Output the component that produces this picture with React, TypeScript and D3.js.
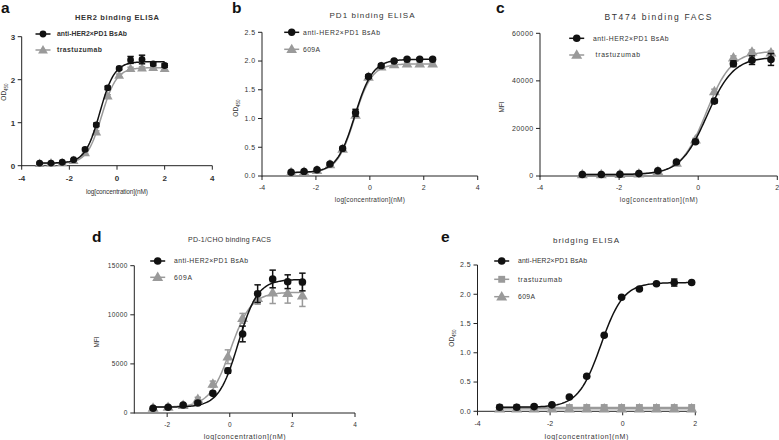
import React from "react";
import * as d3 from "d3";

const W = 779;
const H = 440;
const FONT = "'Liberation Sans', Arial, sans-serif";
const BLACK = "#111";
const GRAY = "#9a9a9a";

const SERIES_BSAB = "anti-HER2×PD1 BsAb";
const SERIES_TRAS = "trastuzumab";
const SERIES_609 = "609A";
const XLABEL = "log[concentration](nM)";

// ---------- panel a: HER2 binding ELISA ----------
const aX = [-3.25, -2.77, -2.3, -1.82, -1.34, -0.87, -0.39, 0.09, 0.57, 1.05, 1.52, 2.0];
const aBsAb = [0.06, 0.06, 0.08, 0.14, 0.38, 0.95, 1.81, 2.26, 2.46, 2.47, 2.37, 2.33];
const aBsAbErr = [0.02, 0.02, 0.02, 0.02, 0.03, 0.04, 0.04, 0.03, 0.08, 0.1, 0.04, 0.04];
const aTras = [0.05, 0.06, 0.07, 0.12, 0.3, 0.78, 1.62, 2.1, 2.26, 2.27, 2.28, 2.26];
const aTrasErr = [0.01, 0.01, 0.01, 0.02, 0.02, 0.03, 0.03, 0.03, 0.03, 0.03, 0.03, 0.03];
const aBsAbFit = [0.06, 2.42, -0.72, 1.41]; // bottom, top, logEC50, hill
const aTrasFit = [0.05, 2.28, -0.64, 1.4];
const aXTicks = [-4, -2, 0, 2, 4];
const aYTicks = [0, 1, 2, 3];

// ---------- panel b: PD1 binding ELISA ----------
const bX = [-2.92, -2.44, -1.96, -1.48, -1.01, -0.53, -0.05, 0.42, 0.9, 1.38, 1.85, 2.33];
const bBsAb = [0.065, 0.08, 0.11, 0.21, 0.48, 1.1, 1.73, 1.92, 2.0, 2.03, 2.03, 2.03];
const bBsAbErr = [0.01, 0.01, 0.01, 0.02, 0.02, 0.06, 0.03, 0.03, 0.02, 0.02, 0.02, 0.02];
const b609 = [0.065, 0.075, 0.1, 0.2, 0.47, 1.06, 1.72, 1.9, 1.94, 1.95, 1.95, 1.95];
const b609Err = [0.01, 0.01, 0.01, 0.01, 0.02, 0.03, 0.03, 0.03, 0.03, 0.03, 0.03, 0.03];
const bBsAbFit = [0.06, 2.03, -0.56, 1.3];
const b609Fit = [0.06, 1.95, -0.57, 1.35];
const bXTicks = [-4, -2, 0, 2, 4];
const bYTicks = [0, 0.5, 1, 1.5, 2, 2.5];

// ---------- panel c: BT474 binding FACS ----------
const cX = [-2.93, -2.45, -1.98, -1.5, -1.02, -0.55, -0.07, 0.41, 0.89, 1.36, 1.84];
const cBsAb = [600, 600, 700, 1000, 2200, 5900, 14400, 31500, 47200, 48700, 49000];
const cBsAbErr = [200, 200, 200, 200, 300, 400, 600, 800, 1200, 1800, 2500];
const cTras = [600, 600, 700, 1000, 2000, 5500, 15200, 35500, 49700, 52200, 51800];
const cTrasErr = [200, 200, 200, 200, 300, 400, 600, 1000, 800, 800, 800];
const cBsAbFit = [600, 50000, 0.22, 1.3];
const cTrasFit = [600, 52500, 0.2, 1.35];
const cXTicks = [-4, -2, 0, 2];
const cYTicks = [0, 20000, 40000, 60000];

// ---------- panel d: PD-1/CHO binding FACS ----------
const dX = [-2.45, -1.97, -1.49, -1.02, -0.54, -0.06, 0.41, 0.89, 1.37, 1.85, 2.32];
const dBsAb = [480, 590, 810, 1020, 2000, 4300, 8050, 12150, 13650, 13370, 13340];
const dBsAbErr = [100, 100, 100, 150, 200, 250, 800, 900, 900, 700, 900];
const d609 = [500, 600, 800, 1400, 2950, 5730, 9640, 11680, 12250, 12190, 11950];
const d609Err = [100, 100, 150, 200, 300, 700, 500, 600, 1100, 1000, 1100];
const dBsAbFit = [600, 13600, 0.27, 1.4];
const d609Fit = [600, 12300, 0.02, 1.3];
const dXTicks = [-2, 0, 2, 4];
const dYTicks = [0, 5000, 10000, 15000];

// ---------- panel e: bridging ELISA ----------
const eX = [-3.39, -2.92, -2.44, -1.95, -1.47, -0.99, -0.51, -0.03, 0.46, 0.93, 1.42, 1.9];
const eBsAb = [0.068, 0.07, 0.08, 0.11, 0.245, 0.6, 1.3, 1.95, 2.09, 2.18, 2.2, 2.2];
const eBsAbErr = [0.01, 0.01, 0.01, 0.01, 0.01, 0.02, 0.02, 0.02, 0.02, 0.02, 0.06, 0.02];
const eTras = [0.065, 0.065, 0.065, 0.065, 0.065, 0.065, 0.065, 0.065, 0.065, 0.065, 0.065, 0.065];
const eTrasErr = [0.005, 0.005, 0.005, 0.005, 0.005, 0.005, 0.005, 0.005, 0.005, 0.005, 0.005, 0.005];
const e609 = [0.045, 0.045, 0.045, 0.045, 0.045, 0.045, 0.045, 0.045, 0.045, 0.045, 0.045, 0.045];
const e609Err = [0.005, 0.005, 0.005, 0.005, 0.005, 0.005, 0.005, 0.005, 0.005, 0.005, 0.005, 0.005];
const eBsAbFit = [0.07, 2.2, -0.6, 1.4];
const eTrasFit = [0.065, 0.065, 0, 1];
const e609Fit = [0.045, 0.045, 0, 1];
const eXTicks = [-4, -2, 0, 2];
const eYTicks = [0, 0.5, 1, 1.5, 2, 2.5];

type Shape = "circle" | "triangle" | "square";
type Series = {
  name: string;
  x: number[];
  y: number[];
  err: number[];
  fit: number[];
  color: string;
  shape: Shape;
};

type PanelCfg = {
  letter: string;
  letterPos: [number, number];
  title: string;
  titlePos: [number, number];
  titleW: number;
  titleFs: number;
  xDomain: [number, number];
  xRange: [number, number];
  xTicks: number[];
  yDomain: [number, number];
  yRange: [number, number];
  yTicks: number[];
  yFmt: (v: number) => string;
  yLabel: string;
  ySub: boolean;
  yLabelPos: [number, number];
  xLabelY: number;
  xLabelW: number;
  xLabelFs: number;
  legendX: number;
  legendYs: number[];
  legendTextX: number;
  legendWs: number[];
  tickFs: number;
  bold: boolean;
  r: number;
  series: Series[]; // legend order
};

const fmtInt = (v: number) => String(v);
const fmt1 = d3.format(".1f");

const panels: PanelCfg[] = [
  {
    letter: "a", letterPos: [1, 13],
    title: "HER2 binding ELISA", titlePos: [117, 20], titleW: 84, titleFs: 7.5,
    xDomain: [-4, 4], xRange: [21.7, 212.3], xTicks: aXTicks,
    yDomain: [0, 3], yRange: [165.7, 36.7], yTicks: aYTicks, yFmt: fmtInt,
    yLabel: "OD", ySub: true, yLabelPos: [6, 92],
    xLabelY: 194, xLabelW: 62, xLabelFs: 6.5,
    legendX: 43, legendYs: [34, 50], legendTextX: 57, legendWs: [70, 45],
    tickFs: 8, bold: true, r: 3.4,
    series: [
      { name: SERIES_BSAB, x: aX, y: aBsAb, err: aBsAbErr, fit: aBsAbFit, color: BLACK, shape: "circle" },
      { name: SERIES_TRAS, x: aX, y: aTras, err: aTrasErr, fit: aTrasFit, color: GRAY, shape: "triangle" },
    ],
  },
  {
    letter: "b", letterPos: [232, 13],
    title: "PD1 binding ELISA", titlePos: [372, 18], titleW: 85, titleFs: 8,
    xDomain: [-4, 4], xRange: [262, 477.7], xTicks: bXTicks,
    yDomain: [0, 2.5], yRange: [176, 32.3], yTicks: bYTicks, yFmt: fmt1,
    yLabel: "OD", ySub: true, yLabelPos: [238, 108],
    xLabelY: 202, xLabelW: 70, xLabelFs: 6.5,
    legendX: 291.7, legendYs: [32.3, 49.3], legendTextX: 303, legendWs: [77, 17],
    tickFs: 7, bold: false, r: 3.7,
    series: [
      { name: SERIES_BSAB, x: bX, y: bBsAb, err: bBsAbErr, fit: bBsAbFit, color: BLACK, shape: "circle" },
      { name: SERIES_609, x: bX, y: b609, err: b609Err, fit: b609Fit, color: GRAY, shape: "triangle" },
    ],
  },
  {
    letter: "c", letterPos: [496, 13],
    title: "BT474  binding FACS", titlePos: [658, 19.5], titleW: 107, titleFs: 8.5,
    xDomain: [-4, 2], xRange: [540, 777.3], xTicks: cXTicks,
    yDomain: [0, 60000], yRange: [176, 33.3], yTicks: cYTicks, yFmt: fmtInt,
    yLabel: "MFI", ySub: false, yLabelPos: [504, 107],
    xLabelY: 202, xLabelW: 78, xLabelFs: 6.5,
    legendX: 576.7, legendYs: [38.3, 55], legendTextX: 593, legendWs: [75.6, 47],
    tickFs: 7, bold: false, r: 3.8,
    series: [
      { name: SERIES_BSAB, x: cX, y: cBsAb, err: cBsAbErr, fit: cBsAbFit, color: BLACK, shape: "circle" },
      { name: " " + SERIES_TRAS, x: cX, y: cTras, err: cTrasErr, fit: cTrasFit, color: GRAY, shape: "triangle" },
    ],
  },
  {
    letter: "d", letterPos: [92, 242],
    title: "PD-1/CHO binding FACS", titlePos: [229.5, 241.5], titleW: 83, titleFs: 7,
    xDomain: [-3.05, 4], xRange: [134.3, 355], xTicks: dXTicks,
    yDomain: [0, 15000], yRange: [413, 265.7], yTicks: dYTicks, yFmt: fmtInt,
    yLabel: "MFI", ySub: false, yLabelPos: [99, 342],
    xLabelY: 438.5, xLabelW: 82, xLabelFs: 7,
    legendX: 157.7, legendYs: [261, 277.3], legendTextX: 174, legendWs: [74, 18],
    tickFs: 6.5, bold: false, r: 3.8,
    series: [
      { name: SERIES_BSAB, x: dX, y: dBsAb, err: dBsAbErr, fit: dBsAbFit, color: BLACK, shape: "circle" },
      { name: SERIES_609, x: dX, y: d609, err: d609Err, fit: d609Fit, color: GRAY, shape: "triangle" },
    ],
  },
  {
    letter: "e", letterPos: [441, 242],
    title: "bridging ELISA", titlePos: [586, 243], titleW: 66, titleFs: 8,
    xDomain: [-4, 2], xRange: [477.5, 695.3], xTicks: eXTicks,
    yDomain: [0, 2.5], yRange: [411.3, 265], yTicks: eYTicks, yFmt: fmt1,
    yLabel: "OD", ySub: true, yLabelPos: [454, 338],
    xLabelY: 438.5, xLabelW: 84, xLabelFs: 7,
    legendX: 501.7, legendYs: [261, 279.3, 296.7], legendTextX: 518, legendWs: [69, 44, 17],
    tickFs: 7, bold: false, r: 3.8,
    series: [
      { name: SERIES_BSAB, x: eX, y: eBsAb, err: eBsAbErr, fit: eBsAbFit, color: BLACK, shape: "circle" },
      { name: SERIES_TRAS, x: eX, y: eTras, err: eTrasErr, fit: eTrasFit, color: GRAY, shape: "square" },
      { name: SERIES_609, x: eX, y: e609, err: e609Err, fit: e609Fit, color: GRAY, shape: "triangle" },
    ],
  },
];

function fourPL(p: number[], lx: number) {
  const [bottom, top, ec, hill] = p;
  return bottom + (top - bottom) / (1 + Math.pow(10, (ec - lx) * hill));
}

function Marker({ shape, cx, cy, r, color }: { shape: Shape; cx: number; cy: number; r: number; color: string }) {
  if (shape === "circle") return <circle cx={cx} cy={cy} r={r} fill={color} />;
  const area = shape === "triangle" ? r * r * 3.6 : r * r * 3.3;
  const sym = d3.symbol().type(shape === "triangle" ? d3.symbolTriangle : d3.symbolSquare).size(area)();
  return <path d={sym || ""} transform={`translate(${cx},${cy + (shape === "triangle" ? 0.6 : 0)})`} fill={color} />;
}

function Panel({ c }: { c: PanelCfg }) {
  const x = d3.scaleLinear().domain(c.xDomain).range(c.xRange);
  const y = d3.scaleLinear().domain(c.yDomain).range(c.yRange);
  const fw = c.bold ? "bold" : "normal";
  const line = d3
    .line<number>()
    .x((lx) => x(lx))
    .curve(d3.curveLinear);
  const x0 = c.xRange[0];
  const yBase = c.yRange[0];
  const drawOrder = [...c.series].reverse();
  const txtColor = "#333";
  return (
    <g fontFamily={FONT}>
      <text
        x={c.letterPos[0]}
        y={c.letterPos[1]}
        fontFamily="'Liberation Sans Narrow', 'Liberation Sans', Arial, sans-serif"
        fontWeight="bold"
        fontSize={15.5}
        fill="#111"
      >
        {c.letter}
      </text>
      <text
        x={c.titlePos[0] - c.titleW / 2}
        y={c.titlePos[1]}
        fontSize={c.titleFs}
        fill={txtColor}
        fontWeight={c.bold ? "bold" : "normal"}
        textLength={c.titleW}
        lengthAdjust="spacing"
      >
        {c.title}
      </text>

      {/* axes */}
      <line x1={x0} x2={x0} y1={y(c.yDomain[0]) + 0.5} y2={y(c.yDomain[1])} stroke="#222" strokeWidth={1} />
      <line x1={x0} x2={c.xRange[1]} y1={yBase} y2={yBase} stroke="#222" strokeWidth={1} />
      {c.yTicks.map((t) => (
        <g key={"yt" + t}>
          <line x1={x0 - 4} x2={x0} y1={y(t)} y2={y(t)} stroke="#222" strokeWidth={1} />
          <text
            x={x0 - 6.5}
            y={y(t)}
            dy="0.35em"
            textAnchor="end"
            fontSize={c.tickFs}
            fontWeight={fw}
            fill={txtColor}
            letterSpacing={c.bold ? 0 : 0.4}
          >
            {c.yFmt(t)}
          </text>
        </g>
      ))}
      {c.xTicks.map((t) => (
        <g key={"xt" + t}>
          <line x1={x(t)} x2={x(t)} y1={yBase} y2={yBase + 4} stroke="#222" strokeWidth={1} />
          <text
            x={x(t)}
            y={yBase + 12}
            dy="0.35em"
            textAnchor="middle"
            fontSize={c.tickFs}
            fontWeight={fw}
            fill={txtColor}
          >
            {t < 0 ? "-" + Math.abs(t) : String(t)}
          </text>
        </g>
      ))}
      <text
        x={(c.xRange[0] + c.xRange[1]) / 2 - c.xLabelW / 2}
        y={c.xLabelY}
        fontSize={c.xLabelFs}
        fill={txtColor}
        textLength={c.xLabelW}
        lengthAdjust="spacing"
      >
        {XLABEL}
      </text>
      <text
        transform={`translate(${c.yLabelPos[0]},${c.yLabelPos[1]}) rotate(-90)`}
        textAnchor="middle"
        fontSize={6.5}
        fill={txtColor}
      >
        {c.yLabel}
        {c.ySub ? (
          <tspan fontSize={4.5} dy={1.5}>
            450
          </tspan>
        ) : null}
      </text>

      {/* series */}
      {drawOrder.map((s) => {
        const xs = d3.range(121).map((i) => s.x[0] + ((s.x[s.x.length - 1] - s.x[0]) * i) / 120);
        const path = line.y((lx) => y(fourPL(s.fit, lx)))(xs) || "";
        return (
          <g key={s.name}>
            <path d={path} fill="none" stroke={s.color} strokeWidth={1.5} />
            {s.x.map((lx, i) => {
              const cx = x(lx);
              const e = s.err[i];
              const yt = y(s.y[i] + e);
              const yb = y(s.y[i] - e);
              return (
                <g key={i}>
                  <line x1={cx} x2={cx} y1={yt} y2={yb} stroke={s.color} strokeWidth={1.5} />
                  <line x1={cx - 3.2} x2={cx + 3.2} y1={yt} y2={yt} stroke={s.color} strokeWidth={1.5} />
                  <line x1={cx - 3.2} x2={cx + 3.2} y1={yb} y2={yb} stroke={s.color} strokeWidth={1.5} />
                  <Marker shape={s.shape} cx={cx} cy={y(s.y[i])} r={c.r} color={s.color} />
                </g>
              );
            })}
          </g>
        );
      })}

      {/* legend */}
      {c.series.map((s, i) => {
        const ly = c.legendYs[i];
        return (
          <g key={"lg" + i}>
            <line x1={c.legendX - 7.5} x2={c.legendX + 7.5} y1={ly} y2={ly} stroke={s.color} strokeWidth={1.5} />
            <Marker shape={s.shape} cx={c.legendX} cy={ly} r={c.r} color={s.color} />
            <text
              x={c.legendTextX}
              y={ly}
              dy="0.35em"
              fontSize={6.8}
              fontWeight={fw}
              fill={txtColor}
              textLength={c.legendWs[i]}
              lengthAdjust="spacing"
              style={{ whiteSpace: "pre" }}
            >
              {s.name}
            </text>
          </g>
        );
      })}
    </g>
  );
}

export default function App() {
  return (
    <svg
      width={W}
      height={H}
      viewBox={`0 0 ${W} ${H}`}
      style={{ position: "absolute", left: 0, top: 0, background: "#fff" }}
    >
      <rect x={0} y={0} width={W} height={H} fill="#fff" />
      {panels.map((p) => (
        <Panel key={p.letter} c={p} />
      ))}
    </svg>
  );
}
